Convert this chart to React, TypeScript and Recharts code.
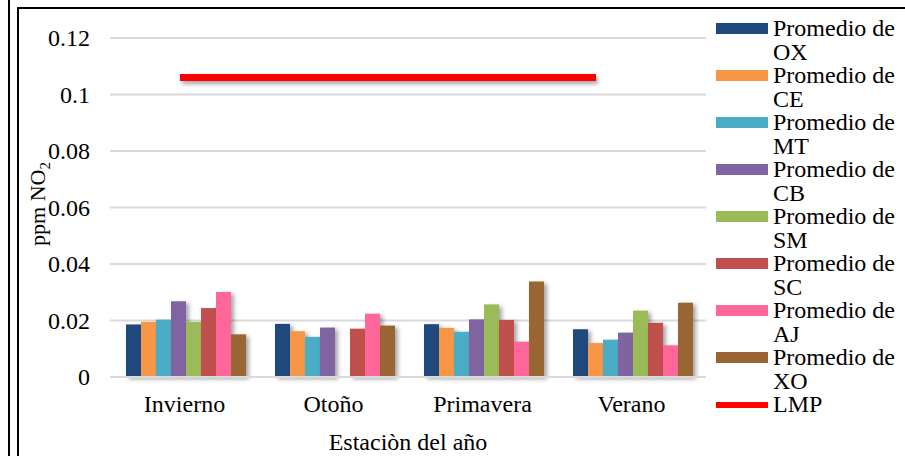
import React from 'react';
import { ComposedChart, Bar, Line, XAxis, YAxis, CartesianGrid } from 'recharts';

const seasons = ['Invierno', 'Otoño', 'Primavera', 'Verano'];

// promedios por sitio (ppm NO2)
const ox = [0.0186, 0.0188, 0.0187, 0.0169];
const ce = [0.0195, 0.0162, 0.0174, 0.012];
const mt = [0.0203, 0.0142, 0.016, 0.0132];
const cb = [0.0268, 0.0175, 0.0204, 0.0157];
const sm = [0.0195, null, 0.0257, 0.0235];
const sc = [0.0244, 0.0171, 0.0202, 0.0192];
const aj = [0.0301, 0.0224, 0.0125, 0.0112];
const xo = [0.0151, 0.0182, 0.0338, 0.0263];
const lmp = [0.106, 0.106, 0.106, 0.106];

const yTicks = [0, 0.02, 0.04, 0.06, 0.08, 0.1, 0.12];

const series = [
  { key: 'OX', name: 'Promedio de OX', color: '#1F497D', values: ox },
  { key: 'CE', name: 'Promedio de CE', color: '#F79646', values: ce },
  { key: 'MT', name: 'Promedio de MT', color: '#4BACC6', values: mt },
  { key: 'CB', name: 'Promedio de CB', color: '#8064A2', values: cb },
  { key: 'SM', name: 'Promedio de SM', color: '#9BBB59', values: sm },
  { key: 'SC', name: 'Promedio de SC', color: '#C0504D', values: sc },
  { key: 'AJ', name: 'Promedio de AJ', color: '#FF6699', values: aj },
  { key: 'XO', name: 'Promedio de XO', color: '#996633', values: xo },
];

const data = seasons.map((season, i) => {
  const row: Record<string, any> = { season, LMP: lmp[i] };
  series.forEach((s) => {
    row[s.key] = s.values[i];
  });
  return row;
});

const FONT = '"Liberation Serif", "Times New Roman", serif';
const textStyle = { fontFamily: FONT };

const ShadowBar = (props: any) => {
  const { x, y, width, height, fill } = props;
  if (!height || height <= 0) return null;
  return (
    <rect
      x={x}
      y={y}
      width={width}
      height={height}
      fill={fill}
      style={{ filter: 'drop-shadow(3px 2px 2px rgba(0,0,0,0.35))' }}
    />
  );
};

const XTick = (props: any) => {
  const { x, y, payload } = props;
  return (
    <text x={x} y={y + 17} textAnchor="middle" fontSize={24} style={textStyle} fill="#000">
      {payload.value}
    </text>
  );
};

const YTick = (props: any) => {
  const { x, y, payload } = props;
  return (
    <text x={x} y={y + 8} textAnchor="end" fontSize={24} style={textStyle} fill="#000">
      {String(Number(Number(payload.value).toFixed(2)))}
    </text>
  );
};

const YLabel = () => (
  <text
    transform="translate(45, 204) rotate(-90)"
    textAnchor="middle"
    fontSize={22}
    style={textStyle}
    fill="#000"
  >
    ppm NO
    <tspan fontSize={15} dy={5}>2</tspan>
  </text>
);

const XLabel = (props: any) => {
  const vb = props.viewBox || {};
  return (
    <text x={vb.x + vb.width / 2} y={450} textAnchor="middle" fontSize={24} style={textStyle} fill="#000">
      Estaciòn del año
    </text>
  );
};

const LegendBox = () => (
  <div style={{ position: 'absolute', left: 716, top: 17, fontFamily: FONT, fontSize: 24, lineHeight: '23.5px', color: '#000' }}>
    {series.map((s) => (
      <div key={s.key} style={{ position: 'relative', height: 47 }}>
        <div style={{ position: 'absolute', left: 0, top: 6, width: 52, height: 11, background: s.color }} />
        <div style={{ position: 'absolute', left: 57, top: 0, width: 130 }}>{s.name}</div>
      </div>
    ))}
    <div style={{ position: 'relative', height: 24 }}>
      <div style={{ position: 'absolute', left: 0, top: 9, width: 52, height: 6, background: '#FF0000' }} />
      <div style={{ position: 'absolute', left: 57, top: 0 }}>LMP</div>
    </div>
  </div>
);

export default function App() {
  return (
    <div style={{ position: 'absolute', left: 0, top: 0, width: 905, height: 456, overflow: 'hidden', background: '#fff', fontFamily: FONT }}>
      <div style={{ position: 'absolute', left: 8, top: 0, width: 2, height: 456, background: '#000' }} />
      <div style={{ position: 'absolute', left: 17, top: 7, width: 900, height: 460, borderLeft: '2px solid #000', borderTop: '2px solid #000' }} />
      <ComposedChart
        width={905}
        height={456}
        data={data}
        margin={{ top: 38, right: 199, bottom: 0, left: 20 }}
        barCategoryGap={16}
        barGap={0}
        style={{ position: 'absolute', left: 0, top: 0, fontFamily: FONT }}
      >
        <CartesianGrid vertical={false} stroke="#d9d9d9" strokeWidth={2} />
        <XAxis
          xAxisId="main"
          dataKey="season"
          height={79}
          tickSize={0}
          tickMargin={18}
          tick={<XTick />}
          axisLine={{ stroke: '#d9d9d9', strokeWidth: 2 }}
          tickLine={false}
          label={<XLabel />}
        />
        <XAxis
          xAxisId="lmp"
          dataKey="season"
          orientation="top"
          height={0}
          scale="point"
          padding={{ left: 70, right: 110 }}
          hide
        />
        <YAxis
          width={90}
          domain={[0, 0.12]}
          ticks={yTicks}
          tickSize={0}
          tickMargin={20}
          tick={<YTick />}
          axisLine={false}
          tickLine={false}
          label={<YLabel />}
        />
        {series.map((s) => (
          <Bar
            key={s.key}
            xAxisId="main"
            dataKey={s.key}
            name={s.name}
            fill={s.color}
            shape={<ShadowBar />}
            isAnimationActive={false}
          />
        ))}
        <Line
          xAxisId="lmp"
          dataKey="LMP"
          name="LMP"
          stroke="#FF0000"
          strokeWidth={7}
          strokeLinecap="butt"
          dot={false}
          activeDot={false}
          isAnimationActive={false}
          style={{ filter: 'drop-shadow(2px 3px 2px rgba(0,0,0,0.35))' }}
        />
      </ComposedChart>
      <LegendBox />
    </div>
  );
}
